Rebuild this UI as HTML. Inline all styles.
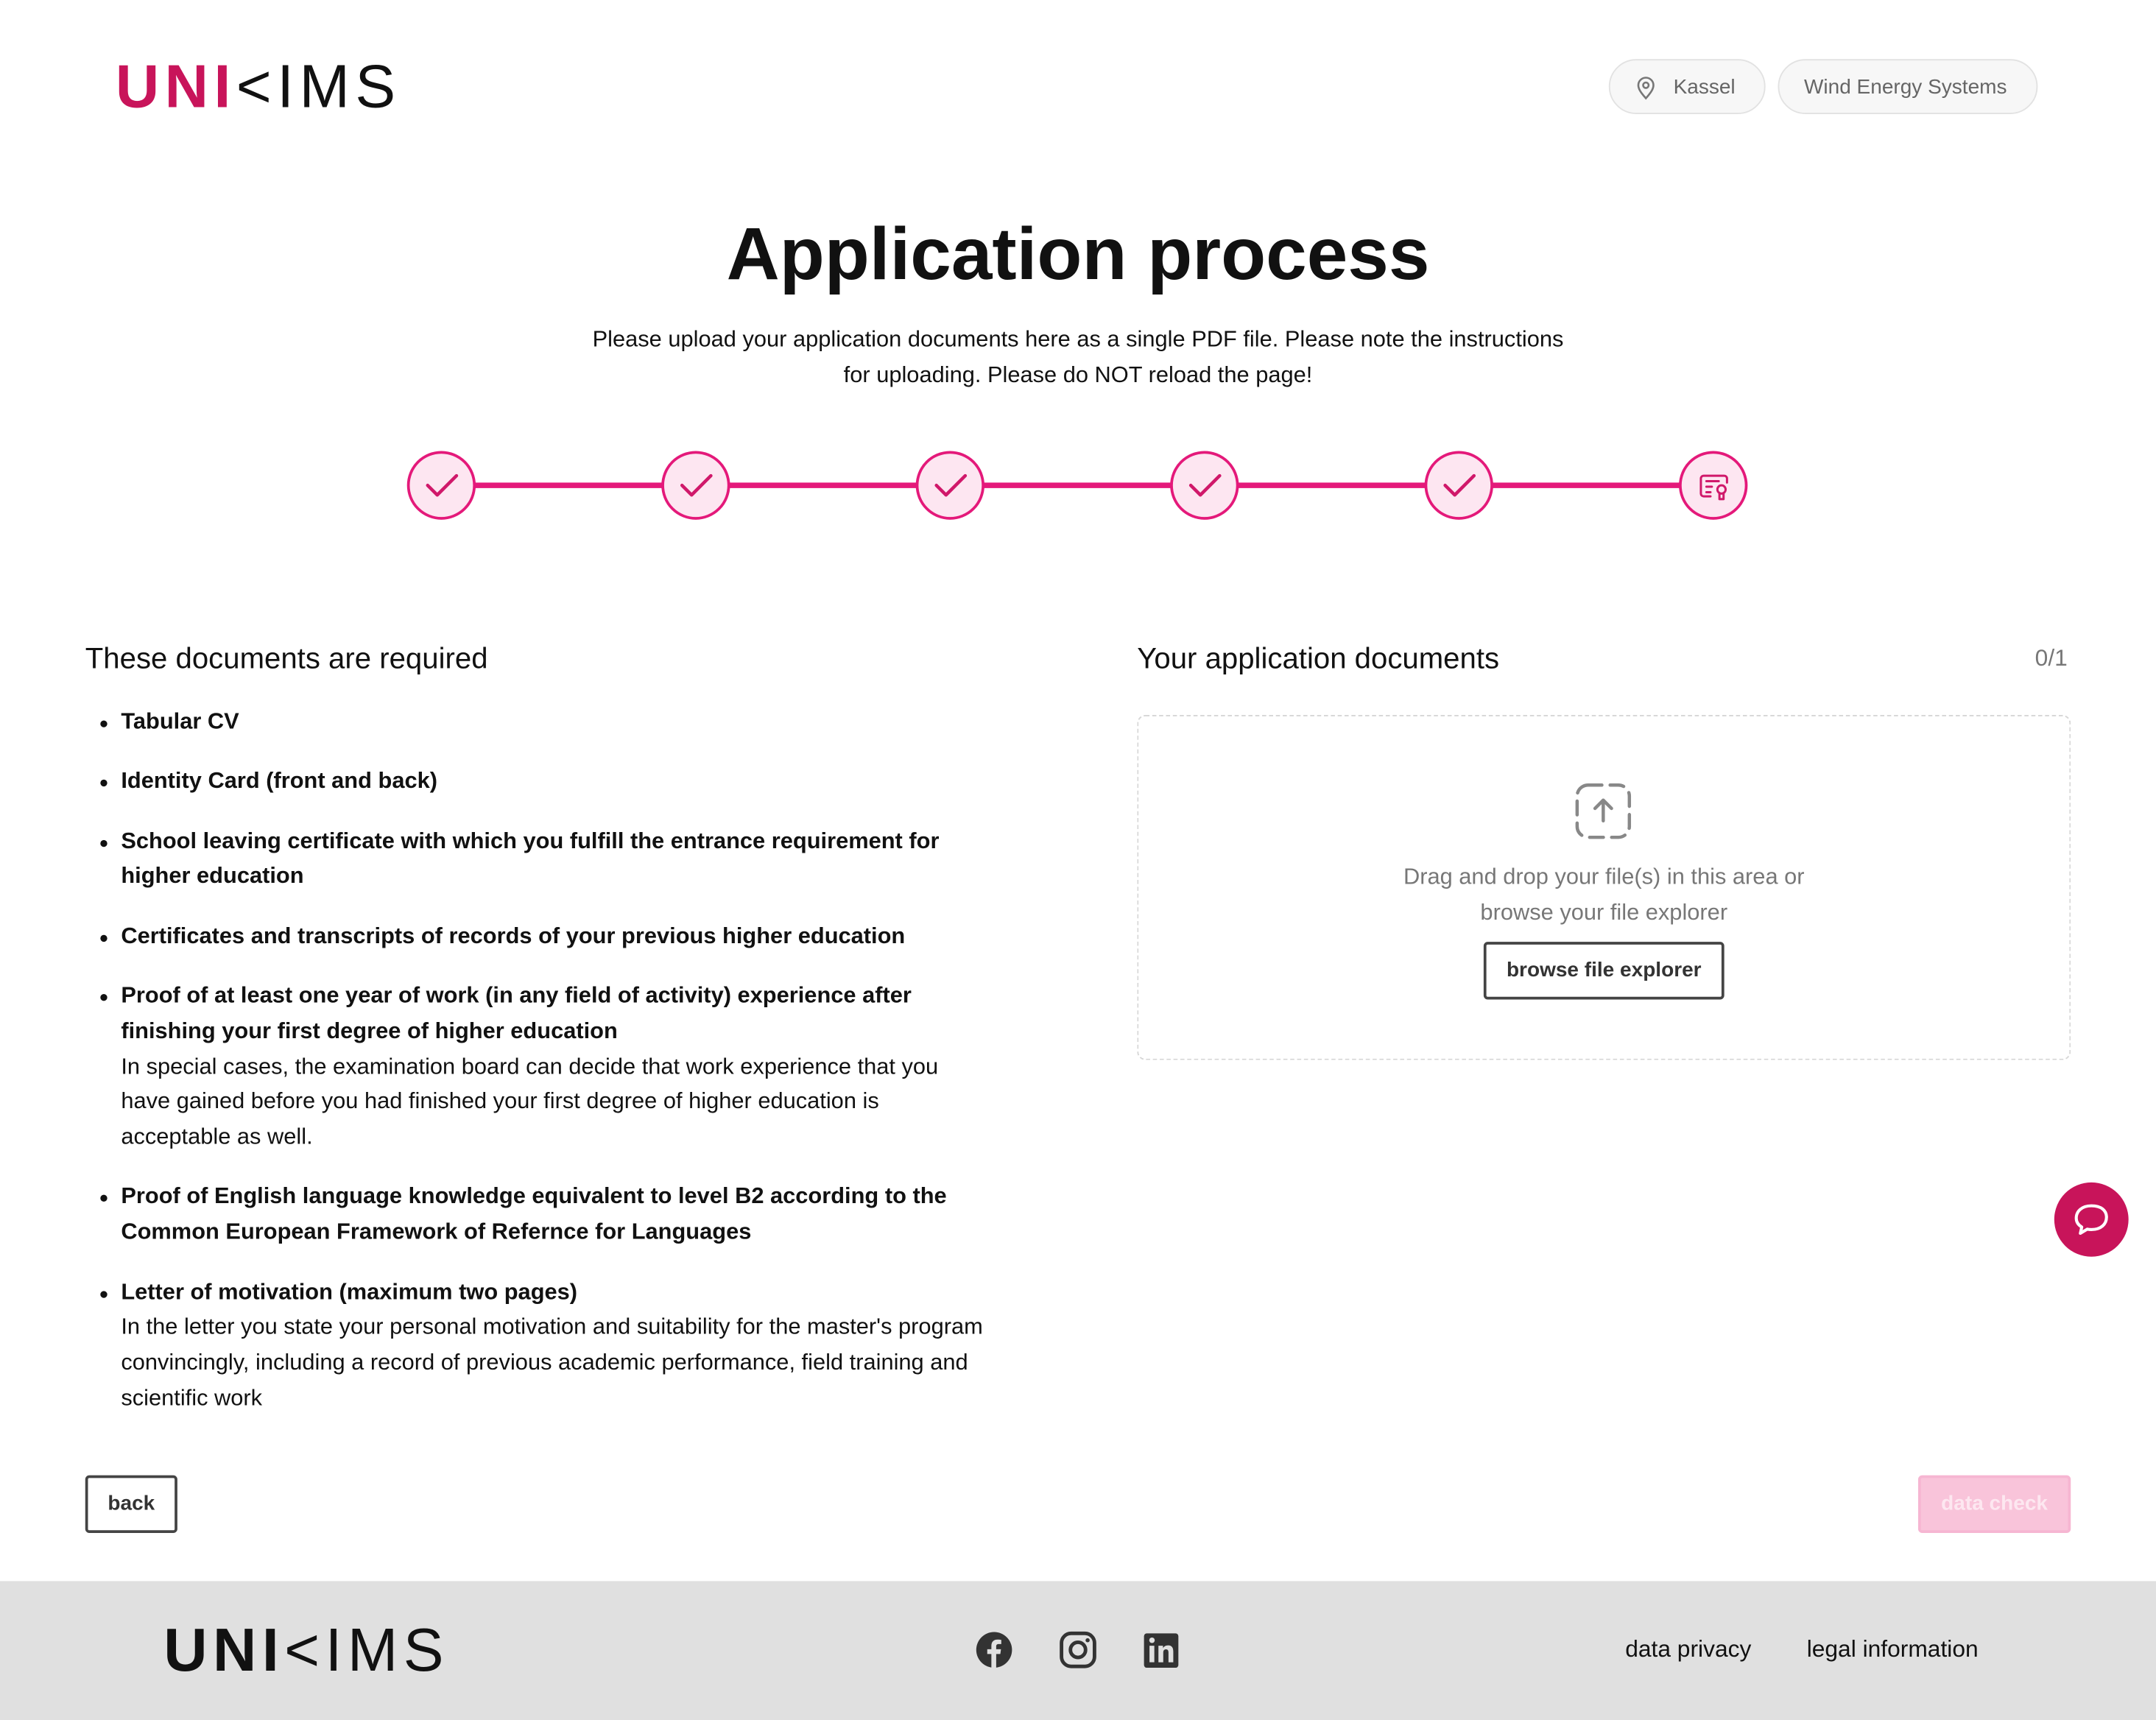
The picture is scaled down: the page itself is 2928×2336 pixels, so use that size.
<!DOCTYPE html>
<html><head><meta charset="utf-8"><style>
html,body{margin:0;padding:0;background:#fff;}
body{width:2928px;height:2336px;overflow:hidden;font-family:"Liberation Sans",sans-serif;}
#p{position:absolute;left:0;top:0;width:1568px;height:1251px;transform:scale(1.86735,1.8673);transform-origin:0 0;color:#111;}
.a{position:absolute;}
.logo{font-size:44px;letter-spacing:4px;white-space:nowrap;line-height:1;}
.logo b{color:#c8145a;font-weight:900;}
.logo span{font-weight:300;}
.pill{border:1px solid #e2e2e2;background:#f7f7f7;border-radius:21px;height:40px;line-height:40px;font-size:15px;color:#666;box-sizing:border-box;padding:0 18px;}
.step{width:50px;height:50px;border:2.5px solid #e4197a;border-radius:50%;background:#fde6f1;box-sizing:border-box;}
ul{margin:0;padding:0;list-style:none;}
li{position:relative;padding-left:26px;font-size:16.5px;line-height:25.8px;margin-bottom:17.5px;}
li:before{content:"";position:absolute;left:11px;top:11px;width:5px;height:5px;border-radius:50%;background:#111;}
li b{font-weight:700;}
.btn{border:2px solid #444;border-radius:3px;box-sizing:border-box;font-weight:700;font-size:15px;text-align:center;color:#333;}
</style></head><body><div id="p">
<div class="a logo" style="left:84px;top:42px;"><b>UNI</b><span>&lt;IMS</span></div>
<div class="a pill" style="left:1170px;top:43px;width:114px;padding-left:46px;">Kassel
<svg class="a" style="left:18px;top:11px" width="16" height="18" viewBox="0 0 16 18"><path d="M8 16.5C4 12 2.5 9.5 2.5 7a5.5 5.5 0 0 1 11 0c0 2.5-1.5 5-5.5 9.5z" fill="none" stroke="#777" stroke-width="1.4"/><circle cx="8" cy="7" r="2" fill="none" stroke="#777" stroke-width="1.4"/></svg></div>
<div class="a pill" style="left:1293px;top:43px;width:189px;">Wind Energy Systems</div>

<div class="a" style="left:0;width:1568px;top:155px;text-align:center;font-size:53.5px;font-weight:700;">Application process</div>
<div class="a" style="left:0;width:1568px;top:234px;text-align:center;font-size:16.5px;line-height:26px;">Please upload your application documents here as a single PDF file. Please note the instructions<br>for uploading. Please do NOT reload the page!</div>

<div class="a" style="left:321px;top:351px;width:925px;height:4px;background:#e4197a;"></div>
<div class="a step" style="left:296px;top:328px;"></div>
<div class="a step" style="left:481px;top:328px;"></div>
<div class="a step" style="left:666px;top:328px;"></div>
<div class="a step" style="left:851px;top:328px;"></div>
<div class="a step" style="left:1036px;top:328px;"></div>
<div class="a step" style="left:1221px;top:328px;"></div>
<svg class="a" style="left:0;top:0" width="1568" height="420">
<g fill="none" stroke="#d0186a" stroke-width="2.4" stroke-linecap="round" stroke-linejoin="round">
<path d="M311 353l7 7 14-14"/><path d="M496 353l7 7 14-14"/><path d="M681 353l7 7 14-14"/><path d="M866 353l7 7 14-14"/><path d="M1051 353l7 7 14-14"/>
<g stroke-width="1.6"><path d="M1244 361h-5a2 2 0 0 1-2-2v-11a2 2 0 0 1 2-2h15a2 2 0 0 1 2 2v3"/><path d="M1241 350h9M1241 354h4M1241 358h3"/><circle cx="1252" cy="356" r="3"/><path d="M1250.5 359v4h3v-4"/></g>
</g></svg>

<div class="a" style="left:62px;top:467px;font-size:21.5px;">These documents are required</div>
<ul class="a" style="left:62px;top:513px;width:655px;">
<li><b>Tabular CV</b></li>
<li><b>Identity Card (front and back)</b></li>
<li><b>School leaving certificate with which you fulfill the entrance requirement for higher education</b></li>
<li><b>Certificates and transcripts of records of your previous higher education</b></li>
<li><b>Proof of at least one year of work (in any field of activity) experience after finishing your first degree of higher education</b><br>In special cases, the examination board can decide that work experience that you have gained before you had finished your first degree of higher education is acceptable as well.</li>
<li><b>Proof of English language knowledge equivalent to level B2 according to the Common European Framework of Refernce for Languages</b></li>
<li><b>Letter of motivation (maximum two pages)</b><br>In the letter you state your personal motivation and suitability for the master's program convincingly, including a record of previous academic performance, field training and scientific work</li>
</ul>

<div class="a" style="left:827px;top:467px;font-size:21.5px;">Your application documents</div>
<div class="a" style="left:1480px;top:469px;font-size:17px;color:#777;">0/1</div>
<div class="a" style="left:827px;top:520px;width:679px;height:251px;border:1.5px dashed #d6d6d6;border-radius:6px;box-sizing:border-box;"></div>
<svg class="a" style="left:1144px;top:568px" width="44" height="44" viewBox="0 0 44 44"><g fill="none" stroke="#888" stroke-width="2.4" stroke-linecap="round" stroke-linejoin="round"><rect x="3" y="3" width="38" height="38" rx="8" stroke-dasharray="10 6"/><path d="M22 29V14M16 20l6-6 6 6"/></g></svg>
<div class="a" style="left:827px;width:679px;top:625px;text-align:center;font-size:16.5px;line-height:26px;color:#777;">Drag and drop your file(s) in this area or<br>browse your file explorer</div>
<div class="a btn" style="left:1079px;top:685px;width:175px;height:42px;line-height:38px;">browse file explorer</div>

<div class="a" style="left:1494px;top:860px;width:54px;height:54px;border-radius:50%;background:#c8145a;"></div>
<svg class="a" style="left:1494px;top:860px" width="54" height="54"><path d="M27 17c-7 0-11 4-11 9 0 3 1.5 5 4 6.5l-1 4.5 5-3c1 .2 2 .3 3 .3 7 0 11-4 11-9s-4-8.3-11-8.3z" fill="none" stroke="#fff" stroke-width="2.2" stroke-linejoin="round"/></svg>

<div class="a btn" style="left:62px;top:1073px;width:67px;height:42px;line-height:38px;">back</div>
<div class="a btn" style="left:1395px;top:1073px;width:111px;height:42px;line-height:38px;border-color:#f6b6d2;background:#f9c4da;color:#fde7f0;">data check</div>

<div class="a" style="left:0;top:1150px;width:1568px;height:101px;background:#e0e0e0;"></div>
<div class="a logo" style="left:119px;top:1179px;color:#111;"><b style="color:#111">UNI</b><span>&lt;IMS</span></div>
<svg class="a" style="left:708px;top:1185px" width="160" height="30">
<circle cx="15" cy="15" r="13" fill="#333"/><path d="M16.5 28V18h3l.5-3.5h-3.5v-2c0-1 .4-1.7 1.8-1.7h1.9V7.7c-.4 0-1.5-.2-2.7-.2-2.8 0-4.5 1.6-4.5 4.6v2.4h-3V18h3v10z" fill="#e0e0e0"/>
<rect x="64" y="3" width="24" height="24" rx="7" fill="none" stroke="#333" stroke-width="2.6"/><circle cx="76" cy="15" r="5.5" fill="none" stroke="#333" stroke-width="2.6"/><circle cx="83" cy="8" r="1.5" fill="#333"/>
<rect x="124" y="3" width="25" height="25" rx="2" fill="#333"/><rect x="128" y="12" width="3.5" height="12" fill="#e0e0e0"/><circle cx="129.8" cy="8" r="2" fill="#e0e0e0"/><path d="M134.5 12h3.3v1.7c.7-1.2 2-2 3.7-2 3 0 3.8 2 3.8 4.7V24h-3.5v-7c0-1.4-.4-2.4-1.8-2.4s-2 1-2 2.4v7h-3.5z" fill="#e0e0e0"/>
</svg>
<div class="a" style="left:1182px;top:1190px;font-size:17px;">data privacy</div>
<div class="a" style="left:1314px;top:1190px;font-size:17px;">legal information</div>
</div></body></html>
